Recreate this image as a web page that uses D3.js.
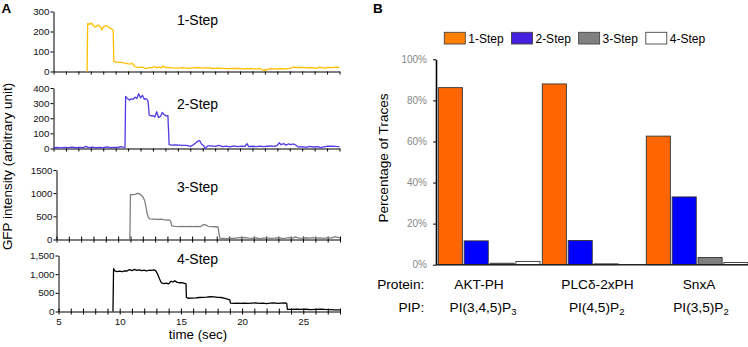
<!DOCTYPE html>
<html>
<head>
<script src="https://cdn.jsdelivr.net/npm/d3@7"></script>
<style>
  body { margin: 0; background: #fff; }
  svg { display: block; font-family: "Liberation Sans", Arial, sans-serif; }
</style>
</head>
<body>
<svg id="mainsvg"></svg>
<script>
// ---- panel A: single-molecule photobleaching traces, [time (sec), intensity] ----
const trace1 = [[7.70,0],[7.75,240],[7.9,236],[8.05,242],[8.2,230],[8.35,222],[8.5,228],[8.6,232],[8.75,225],
  [8.9,208],[9.0,224],[9.1,226],[9.25,230],[9.4,222],[9.55,215],[9.7,212],[9.8,205],[9.85,50],[10.0,48],
  [10.2,46],[10.4,47],[10.6,43],[10.8,42],[11.0,38],[11.2,37],[11.3,42],[11.4,35],[11.55,25],[11.7,22],
  [11.9,20],[12.1,22],[12.3,17],[12.5,15],[12.7,20],[12.9,18],[13.1,25],[13.3,18],[13.5,22],[13.7,18],
  [13.8,28],[14.0,19],[14.3,20],[14.6,18],[15.0,17],[15.4,19],[15.8,16],[16.2,18],[16.6,20],[17.0,17],
  [17.4,19],[17.8,15],[18.2,17],[18.6,16],[19.0,14],[19.4,16],[19.8,15],[20.2,13],[20.6,15],[21.0,14],
  [21.3,12],[21.6,15],[21.9,5],[22.2,10],[22.5,14],[22.8,12],[23.2,15],[23.6,13],[24.0,16],[24.3,22],
  [24.6,20],[25.0,21],[25.4,18],[25.8,20],[26.1,16],[26.4,22],[26.8,17],[27.1,20],[27.4,19],[27.7,22],[28.0,20]];

const trace2 = [[5.0,5],[5.3,8],[5.6,4],[5.9,7],[6.2,6],[6.5,9],[6.8,5],[7.1,8],[7.4,6],[7.6,14],[7.8,6],
  [8.1,9],[8.4,5],[8.7,8],[9.0,6],[9.3,10],[9.6,5],[9.9,8],[10.2,7],[10.4,12],[10.6,9],[10.75,8],[10.8,345],
  [10.95,330],[11.1,320],[11.25,328],[11.4,325],[11.55,340],[11.7,330],[11.85,362],[12.0,335],[12.15,352],
  [12.3,325],[12.45,330],[12.6,315],[12.7,220],[12.85,215],[13.0,218],[13.15,208],[13.3,243],[13.45,205],
  [13.6,212],[13.75,238],[13.9,225],[14.05,215],[14.2,218],[14.3,25],[14.5,22],[14.8,23],[15.1,22],[15.4,21],
  [15.7,20],[16.0,14],[16.2,22],[16.4,35],[16.6,48],[16.75,52],[16.9,30],[17.05,20],[17.2,2],[17.4,17],
  [17.7,18],[18.0,14],[18.3,20],[18.6,12],[18.9,16],[19.2,10],[19.5,18],[19.8,12],[20.1,16],[20.4,14],
  [20.55,32],[20.7,12],[21.0,15],[21.3,13],[21.6,16],[21.9,12],[22.2,15],[22.5,17],[22.8,14],[23.0,20],
  [23.15,38],[23.3,25],[23.5,32],[23.7,22],[23.9,30],[24.1,25],[24.3,30],[24.5,22],[24.7,10],[25.0,12],
  [25.3,8],[25.6,14],[25.9,10],[26.2,12],[26.5,6],[26.8,12],[27.1,15],[27.4,16],[27.7,14],[28.0,13]];

const trace3 = [[10.95,0],[11.0,975],[11.2,970],[11.4,975],[11.55,995],[11.7,990],[11.85,960],[12.0,925],
  [12.15,840],[12.25,720],[12.35,560],[12.45,480],[12.55,445],[12.8,440],[13.0,438],[13.3,432],[13.5,440],
  [13.7,428],[13.9,420],[14.1,425],[14.25,405],[14.35,295],[14.6,285],[14.9,280],[15.2,283],[15.5,278],
  [15.8,282],[16.1,276],[16.4,285],[16.7,280],[16.9,320],[17.1,315],[17.3,285],[17.6,280],[17.9,275],
  [18.1,270],[18.25,30],[18.5,25],[18.8,20],[19.1,28],[19.4,22],[19.7,35],[20.0,45],[20.3,38],[20.6,30],
  [20.9,25],[21.2,32],[21.5,20],[21.8,28],[22.1,35],[22.4,25],[22.7,30],[23.0,38],[23.3,22],[23.6,30],
  [23.9,40],[24.2,28],[24.4,55],[24.6,35],[24.9,25],[25.2,38],[25.5,30],[25.8,42],[26.1,28],[26.4,35],
  [26.7,25],[27.0,40],[27.3,30],[27.6,62],[27.8,45],[28.0,35]];

const trace4 = [[9.45,0],[9.5,1150],[9.6,1090],[9.8,1070],[10.0,1080],[10.2,1065],[10.4,1090],[10.6,1085],
  [10.8,1120],[11.0,1095],[11.2,1130],[11.4,1100],[11.6,1115],[11.8,1095],[12.0,1110],[12.2,1085],[12.4,1105],
  [12.6,1100],[12.8,1115],[12.95,1090],[13.1,1000],[13.25,880],[13.4,770],[13.6,745],[13.8,760],[14.0,740],
  [14.2,810],[14.35,790],[14.5,825],[14.7,780],[14.9,770],[15.1,775],[15.3,755],[15.42,740],[15.45,380],
  [15.6,355],[15.9,360],[16.2,365],[16.5,375],[16.8,380],[17.1,385],[17.4,395],[17.7,390],[18.0,380],
  [18.3,375],[18.6,350],[18.8,330],[19.0,310],[19.05,225],[19.3,220],[19.6,222],[19.9,218],[20.2,225],
  [20.5,215],[20.8,222],[21.1,230],[21.4,218],[21.7,225],[22.0,210],[22.3,222],[22.6,230],[22.9,220],
  [23.2,225],[23.5,228],[23.65,215],[23.7,60],[24.0,55],[24.4,62],[24.8,55],[25.2,60],[25.6,52],[26.0,58],
  [26.4,65],[26.8,55],[27.2,50],[27.6,45],[28.0,42]];

const traceTitles = ["1-Step", "2-Step", "3-Step", "4-Step"];
const traceYTicks = [[0, 100, 200, 300], [0, 100, 200, 300, 400], [0, 500, 1000, 1500], [0, 500, 1000, 1500]];
const timeTicks = [5, 10, 15, 20, 25];
const timeDomain = [5, 28];

// ---- panel B: percentage of traces by number of bleaching steps ----
const proteins = ["AKT-PH", "PLC\u03b4-2xPH", "SnxA"];
const pipBase = ["PI(3,4,5)P", "PI(4,5)P", "PI(3,5)P"];
const pipSub = ["3", "2", "2"];
const stepNames = ["1-Step", "2-Step", "3-Step", "4-Step"];
const pct1 = [86.2, 88.0, 62.6];
const pct2 = [11.6, 11.8, 33.0];
const pct3 = [0.7, 0.4, 3.5];
const pct4 = [1.6, 0.0, 1.1];
const pctTicks = [0, 20, 40, 60, 80, 100];

const width = 748, height = 347;
const svg = d3.select("#mainsvg").attr("width", width).attr("height", height);

// ================= panel A =================
const traces = [trace1, trace2, trace3, trace4];
const lineColors = ["#FFC000", "#4F3BE6", "#808080", "#000000"];
const panels = [
  { x0: 53.5, x1: 339.5, top: 11.5, bottom: 71.5, max: 300, title: 24.5 },
  { x0: 53.5, x1: 339.5, top: 88, bottom: 148.5, max: 400, title: 108.5 },
  { x0: 56.5, x1: 340, top: 170, bottom: 239.5, max: 1500, title: 191.5 },
  { x0: 58.5, x1: 340, top: 255.5, bottom: 311.5, max: 1500, title: 263.5 }
];

panels.forEach((p, i) => {
  const x = d3.scaleLinear(timeDomain, [p.x0, p.x1]);
  const y = d3.scaleLinear([0, p.max], [p.bottom, p.top]);
  const g = svg.append("g");

  const fmt = i === 3 ? d3.format(",") : d3.format("d");
  const ya = g.append("g")
    .attr("transform", `translate(${p.x0},0)`)
    .call(d3.axisLeft(y).tickValues(traceYTicks[i]).tickSize(3).tickSizeOuter(0).tickFormat(fmt));
  ya.selectAll("text").attr("font-size", 9.8).attr("font-family", null).attr("fill", "#111").attr("x", -4);
  ya.select(".domain").attr("stroke", "#000");

  const xa = g.append("g")
    .attr("transform", `translate(0,${p.bottom})`)
    .call(d3.axisBottom(x).tickValues(d3.range(5, 29)).tickSizeOuter(0)
      .tickFormat(d => (i === 3 && timeTicks.includes(d)) ? d : ""));
  xa.selectAll(".tick line").attr("y1", i < 2 ? 0 : -3).attr("y2", 3);
  xa.selectAll("text").attr("font-size", 9.8).attr("font-family", null).attr("fill", "#111").attr("y", 6.5);
  xa.select(".domain").attr("stroke", "#000");

  g.append("path")
    .datum(traces[i])
    .attr("fill", "none")
    .attr("stroke", lineColors[i])
    .attr("stroke-width", 1.3)
    .attr("stroke-linejoin", "round")
    .attr("d", d3.line().x(d => x(d[0])).y(d => y(d[1])));

  g.append("text")
    .attr("x", 197.5).attr("y", p.title)
    .attr("text-anchor", "middle").attr("font-size", 14)
    .text(traceTitles[i]);
});

svg.append("text")
  .attr("x", 198).attr("y", 338.5)
  .attr("text-anchor", "middle").attr("font-size", 13.3)
  .text("time (sec)");

svg.append("text")
  .attr("transform", "translate(12,166.5) rotate(-90)")
  .attr("text-anchor", "middle").attr("font-size", 13.4)
  .text("GFP intensity (arbitrary unit)");

svg.append("text").attr("x", 1.5).attr("y", 12.8)
  .attr("font-size", 13.5).attr("font-weight", "bold").text("A");

// ================= panel B =================
const barColors = ["#FF6600", "#0000FF", "#7F7F7F", "#FFFFFF"];
const legendColors = ["#FF8000", "#4422DD", "#808080", "#FFFFFF"];
const series = [pct1, pct2, pct3, pct4];

const x0 = d3.scaleBand().domain(proteins).range([436, 748]).padding(0);
const x1 = d3.scaleBand().domain(stepNames).range([2.3, x0.bandwidth()]).paddingInner(0.07).paddingOuter(0);
const yB = d3.scaleLinear([0, 100], [264.7, 59.3]);

const rows = proteins.map((p, ci) => ({ protein: p, values: stepNames.map((s, si) => ({ step: s, si, v: series[si][ci] })) }));

const bars = svg.append("g");
bars.selectAll("g")
  .data(rows)
  .join("g")
  .attr("transform", d => `translate(${x0(d.protein)},0)`)
  .selectAll("rect")
  .data(d => d.values)
  .join("rect")
  .attr("x", d => x1(d.step))
  .attr("y", d => yB(d.v))
  .attr("width", x1.bandwidth())
  .attr("height", d => yB(0) - yB(d.v))
  .attr("fill", d => barColors[d.si])
  .attr("stroke", "#333")
  .attr("stroke-width", 0.9);

const yaB = svg.append("g")
  .attr("transform", "translate(436,0)")
  .call(d3.axisLeft(yB).tickValues(pctTicks).tickSize(3).tickSizeOuter(0).tickFormat(d => d + "%"));
yaB.selectAll("text").attr("font-size", 10).attr("font-family", null).attr("fill", "#888").attr("x", -9);
yaB.select(".domain").attr("stroke", "#000").attr("stroke-width", 1.6);
yaB.selectAll(".tick line").attr("stroke", "#000");

svg.append("line")
  .attr("x1", 436).attr("x2", 748)
  .attr("y1", yB(0)).attr("y2", yB(0))
  .attr("stroke", "#222").attr("stroke-width", 1.6);

svg.append("text")
  .attr("transform", "translate(387.5,158) rotate(-90)")
  .attr("text-anchor", "middle").attr("font-size", 13.6)
  .text("Percentage of Traces");

// legend
let lx = 444.3;
const legend = svg.append("g");
stepNames.forEach((s, i) => {
  legend.append("rect")
    .attr("x", lx).attr("y", 32.3).attr("width", 21).attr("height", 11.7)
    .attr("fill", legendColors[i]).attr("stroke", "#444").attr("stroke-width", 0.9);
  const t = legend.append("text")
    .attr("x", lx + 24).attr("y", 42.8).attr("font-size", 12).text(s);
  lx += 24 + t.node().getComputedTextLength() + 7.8;
});

// category labels (text boxes sit slightly off the group centres)
const catFont = 13.7;
const proteinShift = [-9, 5.5, 3];
const pipShift = [-5, 4.7, 5];
svg.append("text").attr("x", 424.3).attr("y", 289.3).attr("text-anchor", "end")
  .attr("font-size", catFont).text("Protein:");
svg.append("text").attr("x", 424.3).attr("y", 311.7).attr("text-anchor", "end")
  .attr("font-size", catFont).text("PIP:");

proteins.forEach((p, i) => {
  const cx = x0(p) + x0.bandwidth() / 2;
  svg.append("text").attr("x", cx + proteinShift[i]).attr("y", 289.3).attr("text-anchor", "middle")
    .attr("font-size", catFont).text(p);
  const t = svg.append("text").attr("x", cx + pipShift[i]).attr("y", 311.7).attr("text-anchor", "middle")
    .attr("font-size", catFont);
  t.append("tspan").text(pipBase[i]);
  t.append("tspan").attr("font-size", 9.5).attr("dy", 3).text(pipSub[i]);
});

svg.append("text").attr("x", 373).attr("y", 13)
  .attr("font-size", 13.5).attr("font-weight", "bold").text("B");
</script>
</body>
</html>
